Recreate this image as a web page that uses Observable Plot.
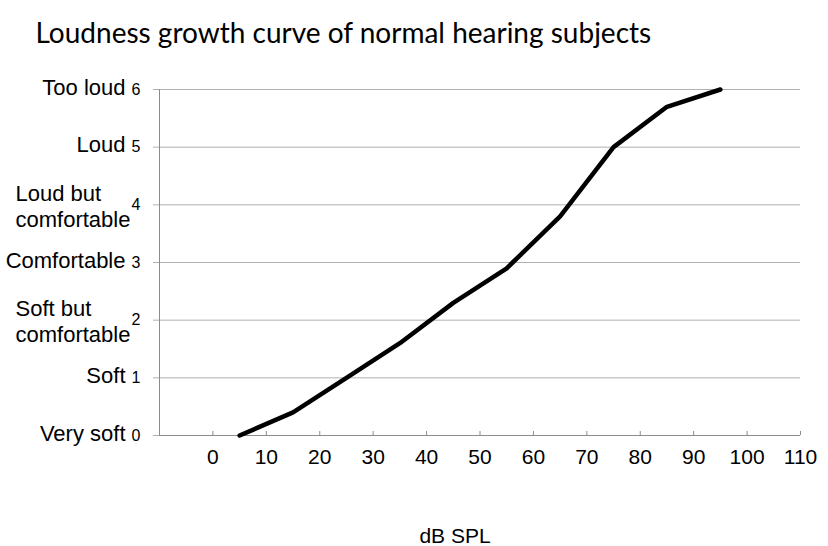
<!DOCTYPE html>
<html>
<head>
<meta charset="utf-8">
<script src="https://cdn.jsdelivr.net/npm/d3@7"></script>
<script src="https://cdn.jsdelivr.net/npm/@observablehq/plot@0.6"></script>
<style>
  html, body { margin: 0; padding: 0; background: #fff; }
  #chart { width: 828px; height: 546px; }
</style>
</head>
<body>
<div id="chart"></div>
<script>
// ---- data ----
const title = "Loudness growth curve of normal hearing subjects";
const xAxisTitle = "dB SPL";
const dbSPL = [5, 15, 25, 35, 45, 55, 65, 75, 85, 95];
const loudness = [0, 0.4, 1.0, 1.6, 2.3, 2.9, 3.8, 5.0, 5.7, 6.0];
const xTicks = [0, 10, 20, 30, 40, 50, 60, 70, 80, 90, 100, 110];
const xTickLabels = ["0", "10", "20", "30", "40", "50", "60", "70", "80", "90", "100", "110"];
const yTicks = [0, 1, 2, 3, 4, 5, 6];
const yTickLabels = ["0", "1", "2", "3", "4", "5", "6"];
const categoryLabels = ["Very soft", "Soft", "Soft but\ncomfortable", "Comfortable", "Loud but\ncomfortable", "Loud", "Too loud"];
const xDomain = [-10, 110];
const yDomain = [0, 6];

// ---- derived tables ----
const points = dbSPL.map((x, i) => ({x, y: loudness[i]}));
const cats = yTicks.map((v, i) => ({v, label: categoryLabels[i], multi: categoryLabels[i].includes("\n")}));

const gridColor = "#b0b0b0";
const axisColor = "#8c8c8c";
const font = "Liberation Sans, Arial, sans-serif";

const chart = Plot.plot({
  width: 828,
  height: 546,
  marginLeft: 159,
  marginRight: 28,
  marginTop: 89,
  marginBottom: 111,
  style: {fontFamily: font, color: "black", background: "white"},
  x: {domain: xDomain, axis: null},
  y: {domain: yDomain, axis: null},
  marks: [
    Plot.gridY(yTicks.slice(1), {stroke: gridColor, strokeOpacity: 1}),
    Plot.ruleX([xDomain[0]], {stroke: axisColor}),
    Plot.ruleY([0], {stroke: axisColor}),
    // y ticks + numbers
    Plot.axisY(yTicks, {tickSize: 6, tickPadding: 13, fontSize: 16, stroke: gridColor, fill: "black", label: null,
      tickFormat: (d) => yTickLabels[yTicks.indexOf(d)]}),
    // x tick marks (inside)
    Plot.axisX(xTicks, {tickSize: 4, dy: -4, stroke: axisColor, tickFormat: () => "", label: null}),
    // x labels
    Plot.axisX(xTicks, {tickSize: 0, tickPadding: 14, fontSize: 21, fill: "black", tickFormat: (d) => xTickLabels[xTicks.indexOf(d)], label: null}),
    // category labels (single-line)
    Plot.text(cats.filter(d => !d.multi), {
      y: "v", text: "label", frameAnchor: "left", dx: -34, dy: -2,
      textAnchor: "end", lineAnchor: "middle", fontSize: 22, fill: "black"
    }),
    // category labels (two-line)
    Plot.text(cats.filter(d => d.multi), {
      y: "v", text: "label", frameAnchor: "left", dx: -144, dy: 1,
      textAnchor: "start", lineAnchor: "middle", lineHeight: 1.18, fontSize: 22, fill: "black"
    }),
    // data line
    Plot.line(points, {x: "x", y: "y", stroke: "black", strokeWidth: 4.5}),
    // x axis title
    Plot.text([xAxisTitle], {frameAnchor: "bottom", dx: -25, dy: 107, lineAnchor: "bottom", fontSize: 21, fill: "black"}),
    // chart title
    Plot.text([title], {frameAnchor: "top-left", dx: -124, dy: -47, textAnchor: "start", lineAnchor: "bottom",
      fontSize: 28, fontFamily: "Lato, Open Sans, sans-serif", fill: "black"})
  ]
});
document.getElementById("chart").appendChild(chart);
</script>
</body>
</html>
